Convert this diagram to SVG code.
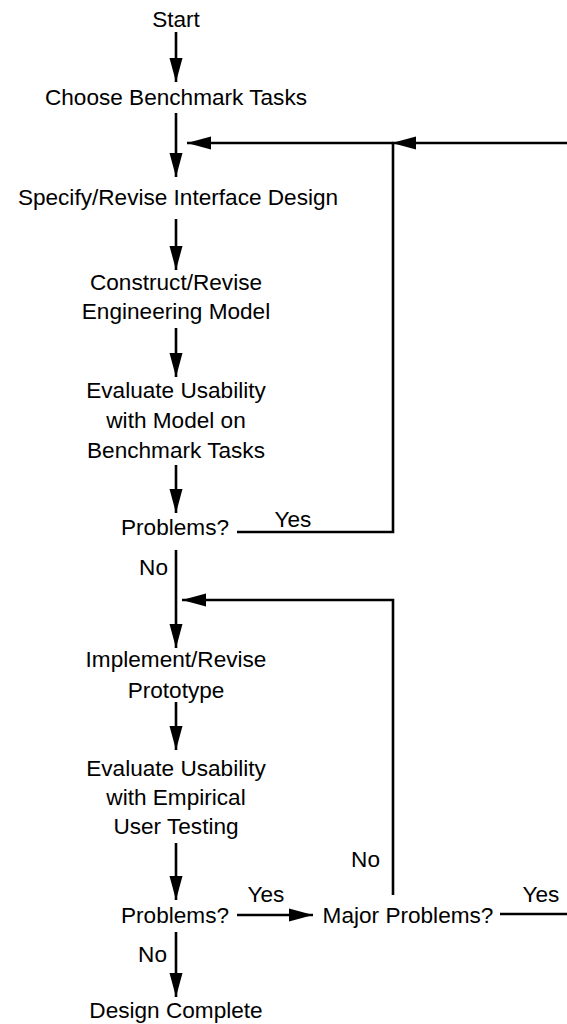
<svg xmlns="http://www.w3.org/2000/svg" width="567" height="1024" viewBox="0 0 567 1024">
<style>
text{font-family:"Liberation Sans",Arial,sans-serif;font-size:22.6px;fill:#000;text-anchor:middle}
.e{text-anchor:end}
.c{fill:none;stroke:#000;stroke-width:2.6}
</style>
<defs>
<marker id="ah" markerUnits="userSpaceOnUse" markerWidth="26" markerHeight="14" refX="24" refY="6.5" orient="auto" viewBox="0 0 26 13">
<path d="M0,0 L24,6.5 L0,13 z" fill="#000"/>
</marker>
</defs>
<rect width="567" height="1024" fill="#fff"/>
<g id="connectors">
<line class="c" x1="176" y1="32" x2="176" y2="82" marker-end="url(#ah)"/>
<line class="c" x1="176" y1="113" x2="176" y2="177" marker-end="url(#ah)"/>
<line class="c" x1="176" y1="219" x2="176" y2="270" marker-end="url(#ah)"/>
<line class="c" x1="176" y1="328" x2="176" y2="377" marker-end="url(#ah)"/>
<line class="c" x1="176" y1="465" x2="176" y2="513" marker-end="url(#ah)"/>
<polyline class="c" points="237,532 393,532 393,143"/>
<line class="c" x1="567" y1="143" x2="392" y2="143" marker-end="url(#ah)"/>
<line class="c" x1="393" y1="143" x2="187" y2="143" marker-end="url(#ah)"/>
<line class="c" x1="176" y1="550" x2="176" y2="648" marker-end="url(#ah)"/>
<polyline class="c" points="393,895 393,600 182,600" marker-end="url(#ah)"/>
<line class="c" x1="176" y1="702" x2="176" y2="750" marker-end="url(#ah)"/>
<line class="c" x1="176" y1="843" x2="176" y2="900" marker-end="url(#ah)"/>
<line class="c" x1="237" y1="915" x2="313" y2="915" marker-end="url(#ah)"/>
<line class="c" x1="500" y1="914" x2="567" y2="914"/>
<line class="c" x1="176" y1="932" x2="176" y2="997" marker-end="url(#ah)"/>
</g>
<g id="labels">
<text x="293" y="527">Yes</text>
<text class="e" x="168" y="575">No</text>
<text x="266" y="902">Yes</text>
<text x="541" y="902">Yes</text>
<text class="e" x="380" y="867">No</text>
<text class="e" x="167" y="962">No</text>
</g>
<g id="start"><text x="176" y="27">Start</text></g>
<g id="choose"><text x="176" y="105">Choose Benchmark Tasks</text></g>
<g id="specify"><text x="178" y="205">Specify/Revise Interface Design</text></g>
<g id="construct"><text x="176" y="290">Construct/Revise</text><text x="176" y="319">Engineering Model</text></g>
<g id="evalModel"><text x="176" y="398">Evaluate Usability</text><text x="176" y="428">with Model on</text><text x="176" y="458">Benchmark Tasks</text></g>
<g id="problems1"><text x="175" y="535">Problems?</text></g>
<g id="implement"><text x="176" y="667">Implement/Revise</text><text x="176" y="698">Prototype</text></g>
<g id="evalUser"><text x="176" y="776">Evaluate Usability</text><text x="176" y="805">with Empirical</text><text x="176" y="834">User Testing</text></g>
<g id="problems2"><text x="175" y="923">Problems?</text></g>
<g id="major"><text x="408" y="923">Major Problems?</text></g>
<g id="complete"><text x="176" y="1018">Design Complete</text></g>
</svg>
